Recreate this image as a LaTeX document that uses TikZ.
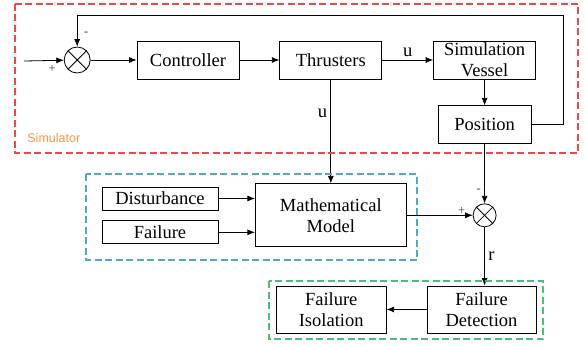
\documentclass[tikz,border=0pt]{standalone}
\usepackage{fontspec}
\setmainfont{Liberation Serif}
\newfontfamily\tagfont{Liberation Sans}
\usetikzlibrary{arrows.meta, positioning}

\definecolor{simred}{RGB}{240,72,72}
\definecolor{mdlblue}{RGB}{75,172,198}
\definecolor{fdgreen}{RGB}{75,190,120}
\definecolor{simorange}{RGB}{247,150,70}

\tikzset{
  block/.style = {draw, line width=0.8pt, minimum width=102pt, minimum height=38pt,
                  inner sep=0pt, align=center, font=\fontsize{18.5}{21}\selectfont},
  small/.style = {block, minimum height=23pt, minimum width=116pt},
  sum/.style   = {draw, circle, line width=0.8pt, minimum size=26pt, inner sep=0pt},
  sign/.style  = {inner sep=0pt, text=black!75, font=\fontsize{12.5}{12}\selectfont},
  group/.style = {line width=1.1pt, dash pattern=on 7pt off 3.5pt},
}

\begin{document}
\begin{tikzpicture}[x=1pt, y=-1pt, ->, > = {Latex[length=7.5pt, width=6pt]}, line width=0.8pt]
\useasboundingbox (0,0) rectangle (585,345);

% simulator loop
\node[block]                    (ctrl) at (188,60)    {Controller};
\node[sum]                      (s1)   [left=46pt of ctrl]  {};
\node[block]                    (thr)  [right=40pt of ctrl] {Thrusters};
\node[block]                    (ves)  [right=51pt of thr]  {Simulation\\Vessel};
\node[block, minimum width=93pt] (pos) [below=26pt of ves]  {Position};

% model branch
\node[block, minimum width=151pt, minimum height=63pt]
                                (mm)   [below=104pt of thr] {Mathematical\\Model};
\node[small]                    (dist) at (160,198.5) {Disturbance};
\node[small]                    (fail) [below=10pt of dist] {Failure};
\node[sum, minimum size=23pt]   (s2)   at (pos |- mm) {};

% detection
\node[block, minimum width=109pt, minimum height=47pt]
                                (fd)   at (481.5,309.5) {Failure\\Detection};
\node[block, minimum width=110pt, minimum height=47pt]
                                (fi)   [left=40pt of fd] {Failure\\Isolation};

\coordinate (in)  at (24,61);
\coordinate (top) at (0,15);

% crosses in the summing points
\foreach \s in {s1, s2} {
  \draw[-] (\s.north west) -- (\s.south east);
  \draw[-] (\s.north east) -- (\s.south west);
}

\draw (in) -- (s1);
\draw (s1) -- (ctrl);
\draw (ctrl) -- (thr);
\draw (thr) -- node[above, font=\fontsize{18.5}{21}\selectfont] {u} (ves);
\draw (ves) -- (pos);
\draw (pos.east) -- ++(32,0) |- (s1 |- top) -- (s1);
\draw (thr) -- node[left, pos=0.33, font=\fontsize{18.5}{21}\selectfont] {u} (mm);
\draw (dist) -- (dist -| mm.west);
\draw (fail) -- (fail -| mm.west);
\draw (mm) -- (s2);
\draw (pos) -- (s2);
\draw (s2) -- node[right, font=\fontsize{18.5}{21}\selectfont] {r} (s2 |- fd.north);
\draw (fd) -- (fi);

\node[sign] at ([shift={(-25,9)}]s1.center) {+};
\node[sign] at ([shift={(9,-26)}]s1.center) {-};
\node[sign] at ([shift={(-23,-4)}]s2.center) {+};
\node[sign] at ([shift={(-6,-25)}]s2.center) {-};

% dashed groups
\draw[-, group, simred]  (15,4) rectangle (578,153);
\draw[-, group, mdlblue] (86,174) rectangle (417,260);
\draw[-, group, fdgreen] (269,281) rectangle (543,339);
\node[anchor=base west, inner sep=0pt, text=simorange, font=\tagfont\fontsize{12.5}{13}\selectfont]
  (simtag) at (27,142.5) {Simulator};
\end{tikzpicture}
\end{document}
